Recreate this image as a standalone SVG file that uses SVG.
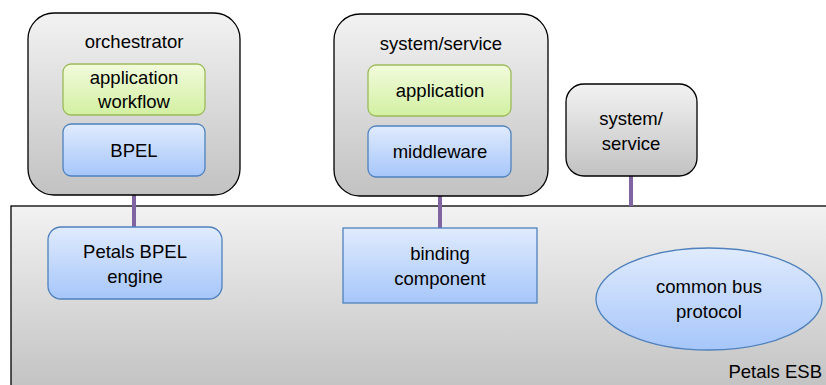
<svg xmlns="http://www.w3.org/2000/svg" width="826" height="385" viewBox="0 0 826 385">
<defs>
<linearGradient id="grey" x1="0" y1="0" x2="0" y2="1"><stop offset="0" stop-color="#f2f2f2"/><stop offset="1" stop-color="#c2c2c2"/></linearGradient>
<linearGradient id="green" x1="0" y1="0" x2="0" y2="1"><stop offset="0" stop-color="#f2fbdc"/><stop offset="1" stop-color="#d2f0a2"/></linearGradient>
<linearGradient id="blue" x1="0" y1="0" x2="0" y2="1"><stop offset="0" stop-color="#e0ebfd"/><stop offset="1" stop-color="#a6c6fa"/></linearGradient>
</defs>
<style>
.grey{fill:url(#grey);stroke:#000;stroke-width:1.3}
.green{fill:url(#green);stroke:#9bbb59;stroke-width:1.3}
.blue{fill:url(#blue);stroke:#4f81bd;stroke-width:1.3}
.conn{stroke:#8064a2;stroke-width:4;fill:none}
text{font-family:"Liberation Sans",Arial,sans-serif;font-size:18.5px;fill:#000;text-anchor:middle}
</style>
<g id="esb">
<rect x="11" y="206" width="830" height="185" class="grey"/>
<text x="822" y="378" style="text-anchor:end">Petals ESB</text>
</g>
<g id="connectors">
<line x1="134" y1="176" x2="134" y2="228" class="conn"/>
<line x1="440" y1="177" x2="440" y2="228" class="conn"/>
<line x1="631" y1="176" x2="631" y2="206" class="conn"/>
</g>
<g id="orchestrator">
<rect x="28" y="13" width="212" height="182" rx="26" class="grey"/>
<text x="134" y="48">orchestrator</text>
</g>
<g id="app-workflow">
<rect x="63" y="64" width="142" height="51" rx="8" class="green"/>
<text x="134" y="84">application</text>
<text x="134" y="108">workflow</text>
</g>
<g id="bpel">
<rect x="63" y="124" width="142" height="52" rx="8" class="blue"/>
<text x="134" y="157">BPEL</text>
</g>
<g id="system-service">
<rect x="334" y="14" width="214" height="182" rx="26" class="grey"/>
<text x="441" y="50">system/service</text>
</g>
<g id="application">
<rect x="368" y="65" width="143" height="51" rx="8" class="green"/>
<text x="440" y="97">application</text>
</g>
<g id="middleware">
<rect x="368" y="126" width="143" height="51" rx="8" class="blue"/>
<text x="440" y="158">middleware</text>
</g>
<g id="system-service-2">
<rect x="566" y="84" width="131" height="92" rx="18" class="grey"/>
<text x="631" y="125">system/</text>
<text x="631" y="150">service</text>
</g>
<g id="petals-bpel-engine">
<rect x="48" y="227" width="174" height="72" rx="13" class="blue"/>
<text x="135" y="258">Petals BPEL</text>
<text x="135" y="283">engine</text>
</g>
<g id="binding-component">
<rect x="343" y="228" width="194" height="75" class="blue"/>
<text x="440" y="260">binding</text>
<text x="440" y="285">component</text>
</g>
<g id="common-bus-protocol">
<ellipse cx="709" cy="299" rx="113" ry="51" class="blue"/>
<text x="709" y="293">common bus</text>
<text x="709" y="318">protocol</text>
</g>
</svg>
